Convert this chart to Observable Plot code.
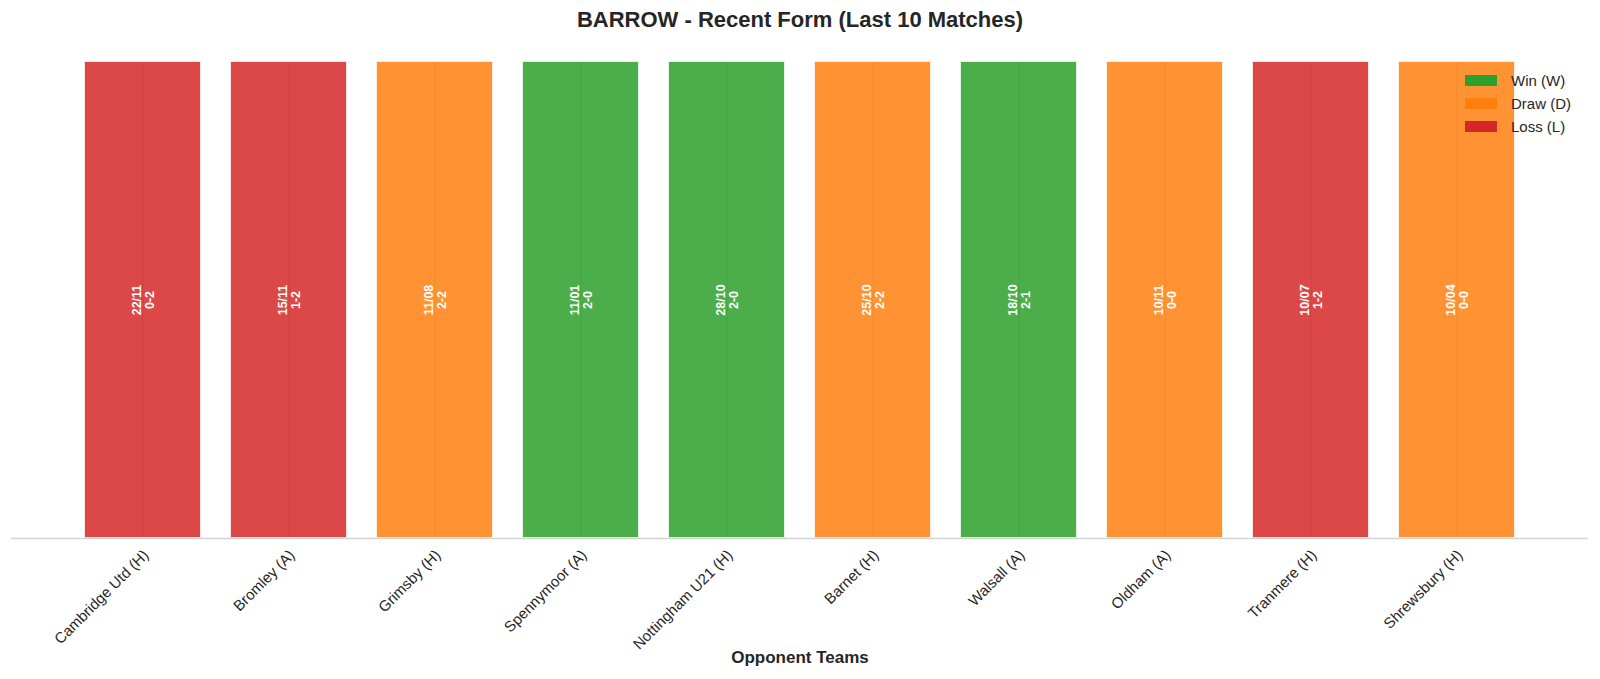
<!DOCTYPE html>
<html>
<head>
<meta charset="utf-8">
<script src="https://cdn.jsdelivr.net/npm/d3@7"></script>
<script src="https://cdn.jsdelivr.net/npm/@observablehq/plot@0.6"></script>
<style>
  html, body { margin: 0; padding: 0; background: #ffffff; }
  #wrap { position: relative; width: 1600px; height: 679px; font-family: "Liberation Sans", Arial, sans-serif; color: #262626; }
  #title { height: 40px; line-height: 40px; text-align: center; font-size: 22px; font-weight: bold; }
  #xlabel { height: 39px; line-height: 36px; text-align: center; font-size: 17px; font-weight: bold; }
  #legend { position: absolute; left: 1465px; top: 69px; font-size: 15px; }
  .row { height: 23px; display: flex; align-items: center; }
  .sw { width: 32px; height: 11px; margin-right: 14px; }
  svg { display: block; }
</style>
</head>
<body>
<div id="wrap">
  <div id="title"></div>
  <div id="chart"></div>
  <div id="xlabel"></div>
  <div id="legend"></div>
</div>
<script>
const teams = ["Cambridge Utd (H)", "Bromley (A)", "Grimsby (H)", "Spennymoor (A)", "Nottingham U21 (H)", "Barnet (H)", "Walsall (A)", "Oldham (A)", "Tranmere (H)", "Shrewsbury (H)"];
const results = ["L", "L", "D", "W", "W", "D", "W", "D", "L", "D"];
const dates = ["22/11", "15/11", "11/08", "11/01", "28/10", "25/10", "18/10", "10/11", "10/07", "10/04"];
const scores = ["0-2", "1-2", "2-2", "2-0", "2-0", "2-2", "2-1", "0-0", "1-2", "0-0"];
const heights = [1, 1, 1, 1, 1, 1, 1, 1, 1, 1];

const resultKeys = ["W", "D", "L"];
const resultLabels = ["Win (W)", "Draw (D)", "Loss (L)"];
const resultColors = ["#2ca02c", "#ff7f0e", "#d62728"];

const titleText = "BARROW - Recent Form (Last 10 Matches)";
const xLabelText = "Opponent Teams";

const colorOf = Object.fromEntries(resultKeys.map((k, i) => [k, resultColors[i]]));
const data = teams.map((t, i) => ({team: t, result: results[i], date: dates[i], score: scores[i], h: heights[i]}));

document.getElementById("title").textContent = titleText;
document.getElementById("xlabel").textContent = xLabelText;

const legend = document.getElementById("legend");
resultKeys.forEach((k, i) => {
  const row = document.createElement("div");
  row.className = "row";
  const sw = document.createElement("div");
  sw.className = "sw";
  sw.style.background = resultColors[i];
  const lab = document.createElement("span");
  lab.textContent = resultLabels[i];
  row.appendChild(sw);
  row.appendChild(lab);
  legend.appendChild(row);
});

const chart = Plot.plot({
  width: 1600,
  height: 600,
  marginTop: 21,
  marginBottom: 102,
  marginLeft: 11,
  marginRight: 12,
  style: {fontFamily: "Liberation Sans, Arial, sans-serif", background: "#ffffff", overflow: "visible"},
  x: {type: "band", domain: teams, paddingInner: 0.2, paddingOuter: 0.49, axis: null},
  y: {domain: [0, 1], axis: null},
  marks: [
    Plot.ruleX(data, {x: "team", y1: 0, y2: 1, stroke: "#c8c8c8", strokeWidth: 1}),
    Plot.barY(data, {
      x: "team", y: "h",
      fill: d => colorOf[d.result], fillOpacity: 0.85,
      stroke: "white", strokeOpacity: 0.85, strokeWidth: 2
    }),
    Plot.text(data, {
      x: "team", y: d => d.h / 2,
      text: d => d.date + "\n" + d.score,
      rotate: -90, fill: "white", fontWeight: "bold", fontSize: 12.5, lineHeight: 1.1
    }),
    Plot.ruleY([0], {stroke: "#d4d4d4", strokeWidth: 1.3}),
    Plot.text(teams, {
      x: d => d, frameAnchor: "bottom", dy: 10, dx: -1,
      rotate: -45, textAnchor: "end", lineAnchor: "top",
      fontSize: 15, fill: "#262626"
    })
  ]
});
document.getElementById("chart").appendChild(chart);
</script>
</body>
</html>
